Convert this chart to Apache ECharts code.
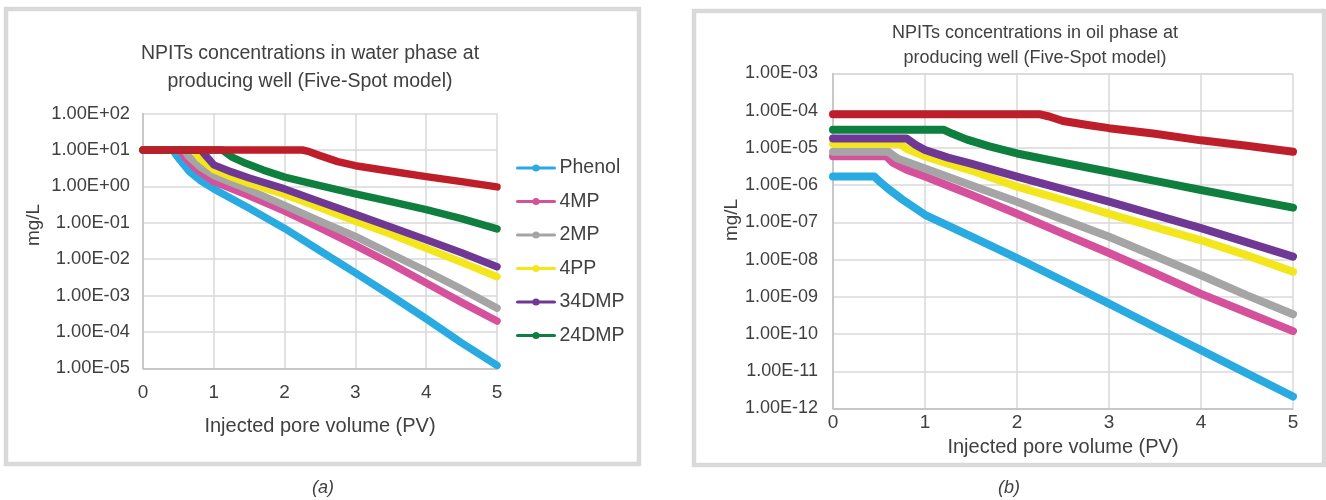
<!DOCTYPE html>
<html>
<head>
<meta charset="utf-8">
<script src="https://cdn.jsdelivr.net/npm/echarts@6/dist/echarts.min.js"></script>
<style>
  html, body { margin: 0; padding: 0; background: #fff; }
  #chart { width: 1326px; height: 500px; }
</style>
</head>
<body>
<div id="chart"></div>
<script>
// x ticks (injected pore volume, PV)
const xTicks = [0, 1, 2, 3, 4, 5]
const names = ['Phenol', '4MP', '2MP', '4PP', '34DMP', '24DMP', 'Unlabelled']
const colors = ['#29abe2', '#d6519c', '#a5a5a5', '#f3e61c', '#6f3894', '#0f7f3f', '#be1e2a']

// (a) water phase, mg/L  [PV, conc]
const waterPhenol = [[0,10],[0.42,10],[0.5,6],[0.66,2.5],[0.8,1.5],[1,0.85],[1.5,0.25],[2,0.07],[2.5,0.017],[3,0.0042],[3.5,0.001],[4,0.00023],[4.5,0.00005],[5,0.000012]]
const water4MP = [[0,10],[0.52,10],[0.6,6],[0.75,3],[1,1.35],[1.5,0.55],[2,0.21],[2.5,0.072],[3,0.024],[3.5,0.0075],[4,0.0022],[4.5,0.00065],[5,0.0002]]
const water2MP = [[0,10],[0.58,10],[0.65,6.5],[0.8,3.5],[1,2.0],[1.5,0.8],[2,0.3],[2.5,0.11],[3,0.042],[3.5,0.014],[4,0.0047],[4.5,0.0015],[5,0.00045]]
const water4PP = [[0,10],[0.72,10],[0.8,6],[1,2.9],[1.25,1.8],[1.5,1.2],[2,0.6],[2.5,0.26],[3,0.11],[3.5,0.048],[4,0.02],[4.5,0.0082],[5,0.0033]]
const water34DMP = [[0,10],[0.82,10],[0.9,6.5],[1,3.9],[1.25,2.5],[1.5,1.7],[2,0.85],[2.5,0.38],[3,0.17],[3.5,0.076],[4,0.034],[4.5,0.015],[5,0.0062]]
const water24DMP = [[0,10],[1.12,10],[1.25,6.5],[1.45,4.3],[1.7,2.8],[2,1.8],[2.5,1.05],[3,0.62],[3.5,0.38],[4,0.23],[4.5,0.13],[5,0.068]]
const waterRed = [[0,10],[2.25,10],[2.35,9],[2.5,7],[2.75,4.8],[3,3.7],[3.5,2.6],[4,1.85],[4.5,1.35],[5,0.97]]

// (b) oil phase, mg/L
const oilPhenol = [[0,1.7e-6],[0.45,1.7e-6],[0.5,1.3e-6],[0.6,8e-7],[0.75,4.2e-7],[1,1.6e-7],[1.5,4.2e-8],[2,1.1e-8],[2.5,2.7e-9],[3,6.6e-10],[3.5,1.55e-10],[4,3.7e-11],[4.5,8.8e-12],[5,2.1e-12]]
const oil4MP = [[0,6e-6],[0.58,6e-6],[0.65,4e-6],[0.8,2.6e-6],[1,1.7e-6],[1.5,5.5e-7],[2,1.7e-7],[2.5,5e-8],[3,1.5e-8],[3.5,4.3e-9],[4,1.2e-9],[4.5,3.8e-10],[5,1.2e-10]]
const oil2MP = [[0,7.9e-6],[0.6,7.9e-6],[0.7,5.2e-6],[0.85,3.8e-6],[1,2.8e-6],[1.5,1.0e-6],[2,3.6e-7],[2.5,1.2e-7],[3,4.1e-8],[3.5,1.25e-8],[4,3.8e-9],[4.5,1.1e-9],[5,3.4e-10]]
const oil4PP = [[0,1.3e-5],[0.72,1.3e-5],[0.8,9.5e-6],[1,6e-6],[1.25,3.8e-6],[1.5,2.5e-6],[2,9.1e-7],[2.5,4e-7],[3,1.7e-7],[3.5,7.5e-8],[4,3.3e-8],[4.5,1.3e-8],[5,4.7e-9]]
const oil34DMP = [[0,1.8e-5],[0.8,1.8e-5],[0.9,1.2e-5],[1,8.8e-6],[1.25,5.5e-6],[1.5,3.8e-6],[2,1.7e-6],[2.5,7.8e-7],[3,3.6e-7],[3.5,1.6e-7],[4,7e-8],[4.5,2.9e-8],[5,1.2e-8]]
const oil24DMP = [[0,3.1e-5],[1.2,3.1e-5],[1.3,2.4e-5],[1.45,1.7e-5],[1.7,1.1e-5],[2,7.1e-6],[2.5,4e-6],[3,2.3e-6],[3.5,1.3e-6],[4,7.4e-7],[4.5,4.3e-7],[5,2.5e-7]]
const oilRed = [[0,8e-5],[2.25,8e-5],[2.35,7e-5],[2.5,5.3e-5],[2.75,4.2e-5],[3,3.4e-5],[3.5,2.4e-5],[4,1.6e-5],[4.5,1.15e-5],[5,7.9e-6]]

const waterSets = [waterPhenol, water4MP, water2MP, water4PP, water34DMP, water24DMP, waterRed]
const oilSets = [oilPhenol, oil4MP, oil2MP, oil4PP, oil34DMP, oil24DMP, oilRed]

const FONT = 'Liberation Sans'
const TXT = '#404040'

function sciLabel(v) {
  const e = Math.round(Math.log10(v))
  return '1.00E' + (e < 0 ? '-' : '+') + String(Math.abs(e)).padStart(2, '0')
}

function makeSeries(sets, idx, width) {
  return sets.map((d, i) => ({
    name: names[i],
    type: 'line',
    xAxisIndex: idx,
    yAxisIndex: idx,
    data: d,
    symbol: 'circle',
    symbolSize: 9,
    showSymbol: false,
    clip: false,
    silent: true,
    lineStyle: {color: colors[i], width: width, cap: 'round', join: 'round'},
    itemStyle: {color: colors[i]}
  }))
}

function xAxisOpt(idx, fs, margin) {
  return {
    type: 'value', gridIndex: idx, min: xTicks[0], max: xTicks[xTicks.length - 1], interval: 1,
    axisLine: {lineStyle: {color: '#bfbfbf', width: 1.5}},
    axisTick: {show: false},
    axisLabel: {color: TXT, fontFamily: FONT, fontSize: fs, margin: margin},
    splitLine: {show: true, lineStyle: {color: '#d9d9d9', width: 1.5}}
  }
}

function yAxisOpt(idx, min, max, fs, margin) {
  return {
    type: 'log', logBase: 10, gridIndex: idx, min: min, max: max, splitNumber: 10,
    axisLine: {show: true, lineStyle: {color: '#bfbfbf', width: 1.5}},
    axisTick: {show: false},
    minorTick: {show: false},
    axisLabel: {color: TXT, fontFamily: FONT, fontSize: fs, margin: margin, formatter: sciLabel},
    splitLine: {show: true, lineStyle: {color: '#d9d9d9', width: 1.5}}
  }
}

const chart = echarts.init(document.getElementById('chart'), null, {renderer: 'canvas'})

chart.setOption({
  animation: false,
  backgroundColor: '#fff',
  title: [
    {
      text: 'NPITs concentrations in water phase at\nproducing well (Five-Spot model)',
      left: 310, top: 40, textAlign: 'center', padding: 0,
      textStyle: {color: TXT, fontFamily: FONT, fontWeight: 'normal', fontSize: 19.5, lineHeight: 28}
    },
    {
      text: 'NPITs concentrations in oil phase at\nproducing well (Five-Spot model)',
      left: 1035, top: 21, textAlign: 'center', padding: 0,
      textStyle: {color: TXT, fontFamily: FONT, fontWeight: 'normal', fontSize: 18, lineHeight: 25}
    }
  ],
  legend: {
    data: names.slice(0, 6),
    orient: 'vertical',
    left: 511, top: 153,
    itemWidth: 37, itemHeight: 9, itemGap: 13.5,
    lineStyle: {width: 3},
    textStyle: {color: TXT, fontFamily: FONT, fontSize: 19.5, lineHeight: 20},
    selectedMode: false
  },
  grid: [
    {left: 143, top: 113.6, width: 354, height: 254.7},
    {left: 833, top: 73.5, width: 460, height: 335}
  ],
  xAxis: [
    Object.assign(xAxisOpt(0, 19, 15), {
      name: 'Injected pore volume (PV)', nameLocation: 'middle', nameGap: 48,
      nameTextStyle: {color: TXT, fontFamily: FONT, fontSize: 20}
    }),
    Object.assign(xAxisOpt(1, 19, 5), {
      name: 'Injected pore volume (PV)', nameLocation: 'middle', nameGap: 27,
      nameTextStyle: {color: TXT, fontFamily: FONT, fontSize: 20}
    })
  ],
  yAxis: [
    yAxisOpt(0, 1e-5, 1e2, 18.3, 13),
    yAxisOpt(1, 1e-12, 1e-3, 18, 15)
  ],
  series: makeSeries(waterSets, 0, 7.5).concat(makeSeries(oilSets, 1, 8)),
  graphic: [
    {type: 'rect', z: -10, shape: {x: 6, y: 9, width: 633, height: 455}, style: {fill: 'none', stroke: '#d9d9d9', lineWidth: 4.5}},
    {type: 'rect', z: -10, shape: {x: 694, y: 11, width: 630, height: 454}, style: {fill: 'none', stroke: '#d9d9d9', lineWidth: 4.5}},
    {type: 'text', x: 34, y: 225, rotation: Math.PI / 2, style: {text: 'mg/L', fill: TXT, font: '19px ' + FONT, align: 'center', verticalAlign: 'middle'}},
    {type: 'text', x: 732, y: 220, rotation: Math.PI / 2, style: {text: 'mg/L', fill: TXT, font: '19px ' + FONT, align: 'center', verticalAlign: 'middle'}},
    {type: 'text', x: 323, y: 488, style: {text: '(a)', fill: TXT, font: 'italic 18px ' + FONT, align: 'center', verticalAlign: 'middle'}},
    {type: 'text', x: 1009, y: 488, style: {text: '(b)', fill: TXT, font: 'italic 18px ' + FONT, align: 'center', verticalAlign: 'middle'}}
  ]
})
</script>
</body>
</html>
